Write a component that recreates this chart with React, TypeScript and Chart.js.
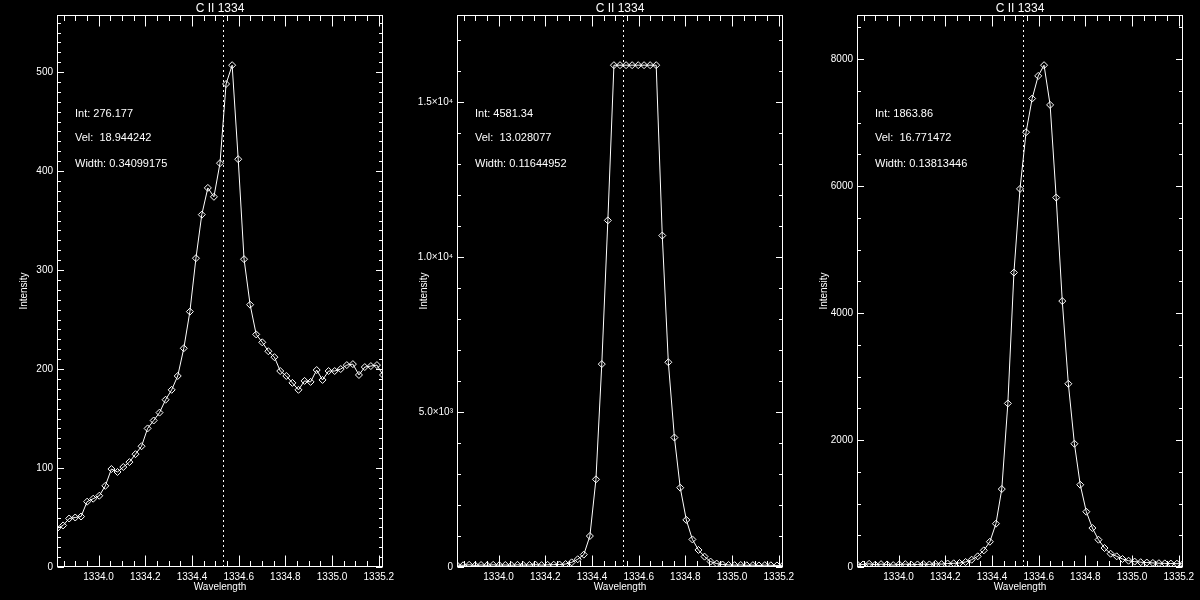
import React, { useEffect, useRef } from "react";
import { Chart, registerables } from "chart.js";

Chart.register(...registerables);

// Wavelength grid (Angstrom), shared by the three spectra
const wavelength = [
  1333.822, 1333.848, 1333.874, 1333.9, 1333.925, 1333.951, 1333.977, 1334.003, 1334.029, 1334.055,
  1334.081, 1334.106, 1334.132, 1334.158, 1334.184, 1334.21, 1334.236, 1334.261, 1334.287, 1334.313,
  1334.339, 1334.365, 1334.391, 1334.417, 1334.442, 1334.468, 1334.494, 1334.52, 1334.546, 1334.572,
  1334.598, 1334.623, 1334.649, 1334.675, 1334.701, 1334.727, 1334.753, 1334.778, 1334.804, 1334.83,
  1334.856, 1334.882, 1334.908, 1334.934, 1334.959, 1334.985, 1335.011, 1335.037, 1335.063, 1335.089,
  1335.115, 1335.14, 1335.166, 1335.192, 1335.218,
];

const intensityLeft = [
  39, 42, 49, 50, 51, 66, 69, 72, 82, 99,
  96, 101, 106, 114, 122, 140, 148, 156, 169, 179,
  193, 221, 258, 312, 356, 383, 374, 408, 488, 507,
  412, 311, 265, 235, 227, 218, 212, 198, 193, 186,
  179, 188, 187, 199, 189, 198, 198, 200, 204, 205,
  194, 202, 203, 204, 194,
];

const intensityMiddle = [
  60, 55, 70, 50, 65, 55, 70, 60, 65, 55,
  70, 60, 65, 75, 60, 70, 75, 80, 95, 150,
  250, 400, 1000, 2830, 6550, 11190, 16200, 16200, 16200, 16200,
  16200, 16200, 16200, 16200, 10700, 6610, 4180, 2560, 1520, 890,
  550, 335, 175, 110, 80, 65, 60, 65, 55, 60,
  50, 60, 55, 50, 55,
];

const intensityRight = [
  45, 40, 50, 35, 45, 40, 30, 40, 45, 35,
  40, 45, 40, 50, 45, 55, 58, 63, 79, 115,
  168, 262, 398, 682, 1228, 2577, 4639, 5957, 6850, 7380,
  7737, 7906, 7280, 5820, 4190, 2887, 1942, 1296, 871, 614,
  430, 299, 209, 168, 126, 99, 85, 76, 70, 64,
  60, 57, 54, 52, 50,
];

const restWavelength = 1334.532;
const lineTitle = "C II 1334";
const xTitle = "Wavelength";
const yTitle = "Intensity";

const fitLeft = ["Int: 276.177", "Vel:  18.944242", "Width: 0.34099175"];
const fitMiddle = ["Int: 4581.34", "Vel:  13.028077", "Width: 0.11644952"];
const fitRight = ["Int: 1863.86", "Vel:  16.771472", "Width: 0.13813446"];

const xMajorStep = 0.2;
const xMinorStep = 0.05;
const yStepsLeft = [100, 10];
const yStepsMiddle = [5000, 1000];
const yStepsRight = [2000, 500];

const FONT = "'Liberation Sans', Arial, sans-serif";
const WHITE = "#ffffff";

const isMultiple = (v: number, step: number) => Math.abs(v / step - Math.round(v / step)) < 1e-6;

const SUP: Record<string, string> = { "0": "⁰", "1": "¹", "2": "²", "3": "³", "4": "⁴", "5": "⁵", "6": "⁶", "7": "⁷", "8": "⁸", "9": "⁹", "-": "⁻" };
const sciLabel = (v: number) => {
  if (v === 0) return "0";
  const e = Math.floor(Math.log10(Math.abs(v)) + 1e-9);
  const m = v / Math.pow(10, e);
  return m.toFixed(1) + "×10" + String(e).split("").map((c) => SUP[c]).join("");
};
const plainLabel = (v: number) => String(Math.round(v));

const idlFrame = {
  id: "idlFrame",
  beforeDatasetsDraw(chart: any, _args: any, opts: any) {
    const { ctx, chartArea: a, scales } = chart;
    const px = Math.round(scales.x.getPixelForValue(opts.rest)) + 0.5;
    ctx.save();
    ctx.strokeStyle = WHITE;
    ctx.lineWidth = 1;
    ctx.setLineDash([2, 3]);
    ctx.beginPath();
    ctx.moveTo(px, a.top);
    ctx.lineTo(px, a.bottom);
    ctx.stroke();
    ctx.restore();
  },
  afterDatasetsDraw(chart: any, _args: any, opts: any) {
    const { ctx, chartArea: a, scales } = chart;
    const L = Math.round(a.left) + 0.5;
    const R = Math.round(a.right) - 0.5;
    const T = Math.round(a.top) + 0.5;
    const B = Math.round(a.bottom) - 0.5;
    ctx.save();
    ctx.strokeStyle = WHITE;
    ctx.lineWidth = 1;
    ctx.setLineDash([]);
    ctx.strokeRect(L, T, R - L, B - T);
    ctx.beginPath();
    for (const t of scales.x.ticks) {
      const px = Math.round(scales.x.getPixelForValue(t.value)) + 0.5;
      const len = isMultiple(t.value, opts.xMajor) ? 11 : 5.5;
      ctx.moveTo(px, B);
      ctx.lineTo(px, B - len);
      ctx.moveTo(px, T);
      ctx.lineTo(px, T + len);
    }
    for (const t of scales.y.ticks) {
      const py = Math.round(scales.y.getPixelForValue(t.value)) + 0.5;
      const len = isMultiple(t.value, opts.yMajor) ? 6.5 : 3.5;
      ctx.moveTo(L, py);
      ctx.lineTo(L + len, py);
      ctx.moveTo(R, py);
      ctx.lineTo(R - len, py);
    }
    ctx.stroke();
    ctx.fillStyle = WHITE;
    ctx.font = `11px ${FONT}`;
    ctx.textAlign = "left";
    ctx.textBaseline = "alphabetic";
    const baselines = [116.5, 141, 166.5];
    opts.fit.forEach((s: string, i: number) => ctx.fillText(s, 75, baselines[i]));
    ctx.restore();
  },
};

type PanelProps = {
  values: number[];
  fit: string[];
  ySteps: number[];
  fmt: (v: number) => string;
};

function Panel({ values, fit, ySteps, fmt }: PanelProps) {
  const ref = useRef<HTMLCanvasElement | null>(null);
  useEffect(() => {
    if (!ref.current) return;
    const yMax = Math.max(...values) * 1.1;
    const [yMajor, yMinor] = ySteps;
    const chart = new Chart(ref.current, {
      type: "line",
      data: {
        datasets: [
          {
            data: wavelength.map((w, i) => ({ x: w, y: values[i] })),
            borderColor: WHITE,
            borderWidth: 1,
            tension: 0,
            pointStyle: "rectRot",
            pointRadius: 3.5,
            pointBorderWidth: 1,
            pointBorderColor: WHITE,
            pointBackgroundColor: "rgba(0,0,0,0)",
            fill: false,
          },
        ],
      },
      options: {
        responsive: false,
        animation: false,
        events: [],
        layout: { padding: { left: 0, right: 17, top: 0, bottom: 0 } },
        plugins: {
          legend: { display: false },
          tooltip: { enabled: false },
          title: {
            display: true,
            text: lineTitle,
            fullSize: false,
            color: WHITE,
            font: { family: FONT, size: 12, weight: "normal", lineHeight: 1 },
            padding: { top: 3, bottom: 0 },
          },
          idlFrame: { rest: restWavelength, fit, xMajor: xMajorStep, yMajor },
        } as any,
        scales: {
          x: {
            type: "linear",
            min: wavelength[0],
            max: wavelength[wavelength.length - 1],
            grid: { display: false, drawTicks: false },
            border: { display: false },
            afterBuildTicks: (scale: any) => {
              const out: { value: number }[] = [];
              const start = Math.ceil(scale.min / xMinorStep - 1e-9);
              for (let k = start; k * xMinorStep <= scale.max + 1e-9; k++) {
                out.push({ value: +(k * xMinorStep).toFixed(4) });
              }
              scale.ticks = out;
            },
            afterFit: (scale: any) => {
              scale.height = 33;
            },
            ticks: {
              autoSkip: false,
              maxRotation: 0,
              minRotation: 0,
              padding: 4,
              color: WHITE,
              font: { family: FONT, size: 10 },
              callback: (v: any) => (isMultiple(Number(v), xMajorStep) ? Number(v).toFixed(1) : ""),
            },
            title: {
              display: true,
              text: xTitle,
              color: WHITE,
              font: { family: FONT, size: 10 },
              padding: { top: 0, bottom: 7 },
            },
          },
          y: {
            type: "linear",
            min: 0,
            max: yMax,
            grid: { display: false, drawTicks: false },
            border: { display: false },
            afterBuildTicks: (scale: any) => {
              const out: { value: number }[] = [];
              for (let k = 0; k * yMinor <= scale.max + 1e-9; k++) out.push({ value: k * yMinor });
              scale.ticks = out;
            },
            afterFit: (scale: any) => {
              scale.width = 57;
            },
            ticks: {
              autoSkip: false,
              padding: 4,
              color: WHITE,
              font: { family: FONT, size: 10 },
              callback: (v: any) => (isMultiple(Number(v), yMajor) ? fmt(Number(v)) : ""),
            },
            title: {
              display: true,
              text: yTitle,
              color: WHITE,
              font: { family: FONT, size: 10 },
              padding: { top: 18, bottom: 0 },
            },
          },
        },
      } as any,
      plugins: [idlFrame as any],
    });
    return () => chart.destroy();
  }, [values, fit, ySteps, fmt]);
  return (
    <div style={{ width: 400, height: 600, position: "relative" }}>
      <canvas ref={ref} width={400} height={600} style={{ display: "block" }} />
    </div>
  );
}

export default function App() {
  return (
    <div
      style={{
        position: "fixed",
        left: 0,
        top: 0,
        width: 1200,
        height: 600,
        background: "#000",
        display: "flex",
        flexDirection: "row",
      }}
    >
      <Panel values={intensityLeft} fit={fitLeft} ySteps={yStepsLeft} fmt={plainLabel} />
      <Panel values={intensityMiddle} fit={fitMiddle} ySteps={yStepsMiddle} fmt={sciLabel} />
      <Panel values={intensityRight} fit={fitRight} ySteps={yStepsRight} fmt={plainLabel} />
    </div>
  );
}
